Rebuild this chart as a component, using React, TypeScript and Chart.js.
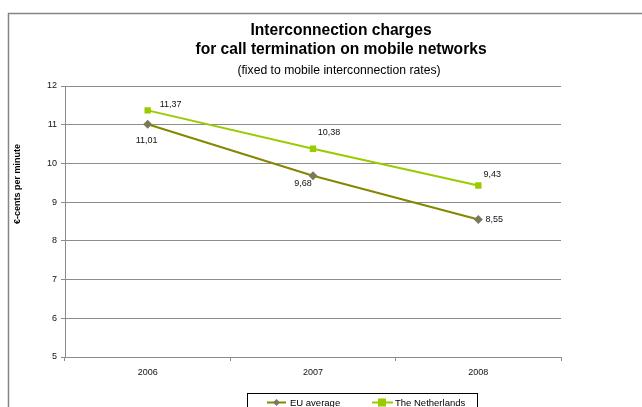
import React, { useEffect, useRef } from 'react';
import { Chart, registerables } from 'chart.js';

Chart.register(...registerables);

const categories = ['2006', '2007', '2008'];
const euAverage = [11.01, 9.68, 8.55];
const netherlands = [11.37, 10.38, 9.43];
const seriesNames = ['EU average', 'The Netherlands'];
const titleLines = ['Interconnection charges', 'for call termination on mobile networks'];
const subtitle = '(fixed to mobile interconnection rates)';
const yTitle = '€-cents per minute';
const yMin = 5;
const yMax = 12;

// label offsets (style only)
const euLabelOffsets = [[-1, 16], [-10, 8], [16, 0]];
const nlLabelOffsets = [[23, -6], [16, -16], [14, -11]];

const FONT = '"Liberation Sans", Arial, sans-serif';
const EU_LINE = '#868600';
const EU_MARK = '#7a7a5a';
const NL = '#99cc00';
const GRID = '#8c8c8c';

const fmt = (v: number) => v.toFixed(2).replace('.', ',');

const overlay = {
  id: 'overlay',
  afterDraw(chart: any) {
    const ctx = chart.ctx;
    ctx.save();
    // outer border
    ctx.strokeStyle = '#858585';
    ctx.lineWidth = 1.5;
    ctx.beginPath();
    ctx.moveTo(8.5, 420);
    ctx.lineTo(8.5, 13.5);
    ctx.lineTo(660, 13.5);
    ctx.stroke();

    // titles
    ctx.fillStyle = '#000';
    ctx.textAlign = 'center';
    ctx.textBaseline = 'middle';
    ctx.font = `bold 15.6px ${FONT}`;
    ctx.fillText(titleLines[0], 341, 31);
    ctx.fillText(titleLines[1], 341, 50);
    ctx.font = `12.2px ${FONT}`;
    ctx.fillText(subtitle, 339, 71);

    // y title
    ctx.save();
    ctx.translate(17.5, 184);
    ctx.rotate(-Math.PI / 2);
    ctx.font = `bold 9px ${FONT}`;
    ctx.fillText(yTitle, 0, 0);
    ctx.restore();

    // data labels
    ctx.font = `9px ${FONT}`;
    ctx.fillStyle = '#111';
    const offs = [euLabelOffsets, nlLabelOffsets];
    chart.data.datasets.forEach((ds: any, di: number) => {
      const meta = chart.getDatasetMeta(di);
      meta.data.forEach((pt: any, i: number) => {
        const [dx, dy] = offs[di][i];
        ctx.fillText(fmt(ds.data[i]), pt.x + dx, pt.y + dy);
      });
    });

    // legend
    ctx.strokeStyle = '#000';
    ctx.lineWidth = 1;
    ctx.strokeRect(247.5, 393.5, 230, 30);
    const ly = 402.5;
    // EU
    ctx.strokeStyle = EU_LINE;
    ctx.lineWidth = 2;
    ctx.beginPath();
    ctx.moveTo(267, ly);
    ctx.lineTo(286, ly);
    ctx.stroke();
    ctx.fillStyle = EU_MARK;
    ctx.beginPath();
    ctx.moveTo(276.5, ly - 3.5);
    ctx.lineTo(280, ly);
    ctx.lineTo(276.5, ly + 3.5);
    ctx.lineTo(273, ly);
    ctx.closePath();
    ctx.fill();
    // NL
    ctx.strokeStyle = NL;
    ctx.beginPath();
    ctx.moveTo(372, ly);
    ctx.lineTo(393, ly);
    ctx.stroke();
    ctx.fillStyle = NL;
    ctx.fillRect(378, ly - 4, 8, 8);
    ctx.fillStyle = '#000';
    ctx.textAlign = 'left';
    ctx.font = `9.5px ${FONT}`;
    ctx.fillText(seriesNames[0], 290, ly + 1);
    ctx.fillText(seriesNames[1], 395, ly + 1);
    ctx.restore();
  },
};

export default function App() {
  const ref = useRef<HTMLCanvasElement | null>(null);
  useEffect(() => {
    if (!ref.current) return;
    const chart = new Chart(ref.current, {
      type: 'line',
      data: {
        labels: categories,
        datasets: [
          {
            label: seriesNames[0],
            data: euAverage,
            borderColor: EU_LINE,
            backgroundColor: EU_MARK,
            borderWidth: 2,
            pointStyle: 'rectRot',
            pointRadius: 4.5,
            pointBackgroundColor: EU_MARK,
            pointBorderColor: EU_MARK,
            pointBorderWidth: 0,
            tension: 0,
          },
          {
            label: seriesNames[1],
            data: netherlands,
            borderColor: NL,
            backgroundColor: NL,
            borderWidth: 2,
            pointStyle: 'rect',
            pointRadius: 4.5,
            pointBackgroundColor: NL,
            pointBorderColor: NL,
            pointBorderWidth: 0,
            tension: 0,
          },
        ],
      },
      options: {
        animation: false,
        responsive: false,
        devicePixelRatio: 1,
        layout: { padding: { top: 86, right: 81, left: 0, bottom: 0 } },
        plugins: {
          legend: { display: false },
          title: { display: false },
          tooltip: { enabled: false },
        },
        scales: {
          x: {
            offset: true,
            grid: {
              offset: true,
              drawOnChartArea: false,
              drawTicks: true,
              tickLength: 4,
              color: GRID,
            },
            border: { color: GRID, width: 1 },
            ticks: { font: { family: FONT, size: 9 }, color: '#111', padding: 6, maxRotation: 0 },
            afterFit: (s: any) => { s.height = 50; },
          },
          y: {
            min: yMin,
            max: yMax,
            grid: { color: GRID, tickLength: 4, lineWidth: 1 },
            border: { color: GRID, width: 1 },
            ticks: { stepSize: 1, font: { family: FONT, size: 9 }, color: '#111', padding: 4 },
            afterFit: (s: any) => { s.width = 65; },
          },
        },
      },
      plugins: [overlay],
    });
    return () => chart.destroy();
  }, []);
  return (
    <div style={{ position: 'absolute', left: 0, top: 0, width: 642, height: 407, background: '#fff' }}>
      <canvas ref={ref} width={642} height={407} style={{ display: 'block', width: 642, height: 407 }} />
    </div>
  );
}
